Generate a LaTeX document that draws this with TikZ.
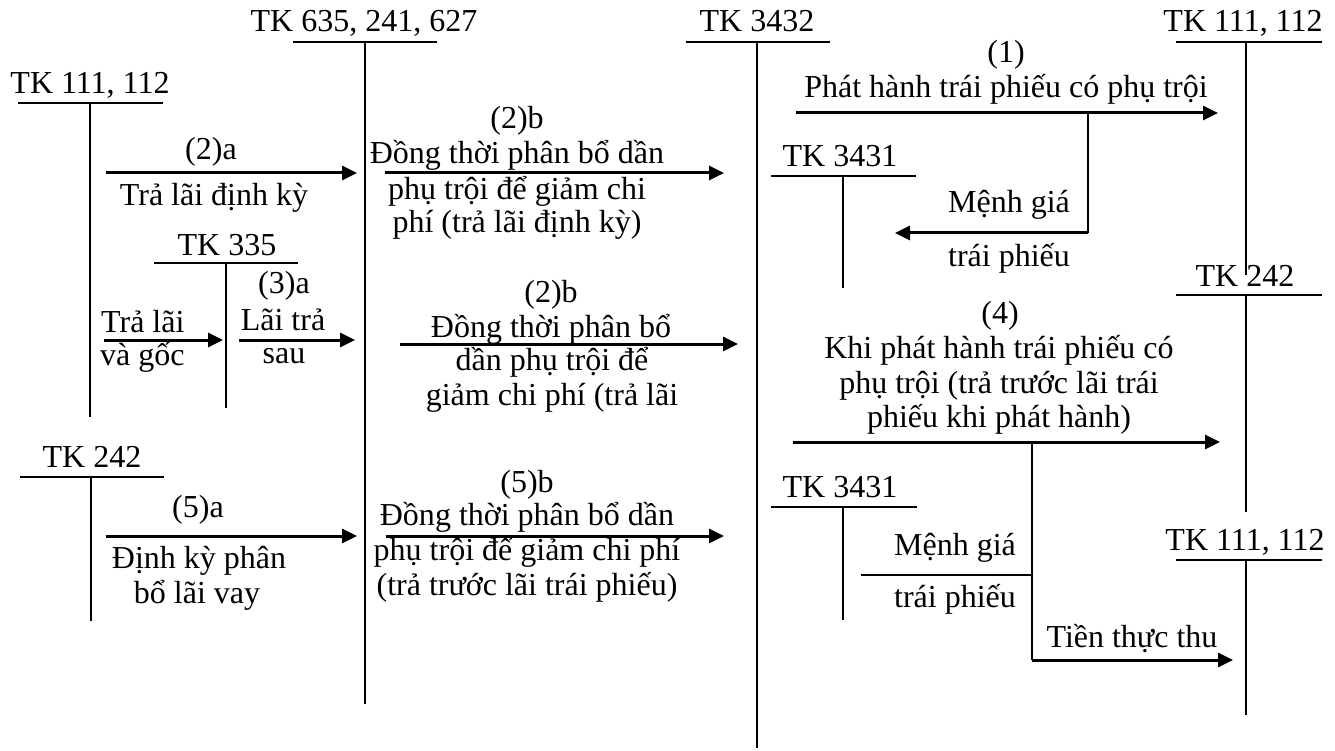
\documentclass[tikz,border=0pt]{standalone}
\usepackage{fontspec}
\setmainfont{Liberation Serif}
\usetikzlibrary{arrows.meta}
\tikzset{
  txt/.style={anchor=base, inner sep=0pt, font=\fontsize{32}{36}\selectfont},
  txtl/.style={txt, anchor=base west},
  tline/.style={line width=2.2pt},
  arr/.style={line width=3pt, -{Triangle[length=15pt,width=14pt]}}
}
\begin{document}
\begin{tikzpicture}[x=1pt,y=-1pt]
\useasboundingbox (0,0) rectangle (1335,751);

% ---------- T accounts ----------
% left TK 111, 112
\node[txt] (tA) at (90,94) {TK 111, 112};
\coordinate (tAl) at (18,103); \coordinate (tAr) at (163,103);
\coordinate (tAt) at (90,103); \coordinate (tAb) at (90,417);
\draw[tline] (tAl) -- (tAr); \draw[tline] (tAt) -- (tAb);

% TK 635, 241, 627
\node[txt] (tB) at (364,32) {TK 635, 241, 627};
\coordinate (tBl) at (293,42); \coordinate (tBr) at (437,42);
\coordinate (tBt) at (365,42); \coordinate (tBb) at (365,704);
\draw[tline] (tBl) -- (tBr); \draw[tline] (tBt) -- (tBb);

% TK 3432
\node[txt] (tC) at (757,32) {TK 3432};
\coordinate (tCl) at (686,42); \coordinate (tCr) at (830,42);
\coordinate (tCt) at (757,42); \coordinate (tCb) at (757,748);
\draw[tline] (tCl) -- (tCr); \draw[tline] (tCt) -- (tCb);

% right top TK 111, 112
\node[txt] (tD) at (1243,32) {TK 111, 112};
\coordinate (tDl) at (1176,42); \coordinate (tDr) at (1322,42);
\coordinate (tDt) at (1246,42); \coordinate (tDb) at (1246,275);
\draw[tline] (tDl) -- (tDr); \draw[tline] (tDt) -- (tDb);

% upper TK 3431
\node[txt] (tE) at (840,167) {TK 3431};
\coordinate (tEl) at (771,176); \coordinate (tEr) at (916,176);
\coordinate (tEt) at (843,176); \coordinate (tEb) at (843,288);
\draw[tline] (tEl) -- (tEr); \draw[tline] (tEt) -- (tEb);

% right TK 242
\node[txt] (tF) at (1245,287) {TK 242};
\coordinate (tFl) at (1176,295); \coordinate (tFr) at (1322,295);
\coordinate (tFt) at (1246,295); \coordinate (tFb) at (1246,512);
\draw[tline] (tFl) -- (tFr); \draw[tline] (tFt) -- (tFb);

% TK 335
\node[txt] (tG) at (227,255) {TK 335};
\coordinate (tGl) at (154,263); \coordinate (tGr) at (298,263);
\coordinate (tGt) at (226,263); \coordinate (tGb) at (226,408);
\draw[tline] (tGl) -- (tGr); \draw[tline] (tGt) -- (tGb);

% left TK 242
\node[txt] (tH) at (92,467) {TK 242};
\coordinate (tHl) at (20,477); \coordinate (tHr) at (164,477);
\coordinate (tHt) at (91,477); \coordinate (tHb) at (91,621);
\draw[tline] (tHl) -- (tHr); \draw[tline] (tHt) -- (tHb);

% lower TK 3431
\node[txt] (tI) at (840,497) {TK 3431};
\coordinate (tIl) at (771,507); \coordinate (tIr) at (917,507);
\coordinate (tIt) at (843,507); \coordinate (tIb) at (843,620);
\draw[tline] (tIl) -- (tIr); \draw[tline] (tIt) -- (tIb);

% lower right TK 111, 112
\node[txt] (tJ) at (1245,550) {TK 111, 112};
\coordinate (tJl) at (1176,560); \coordinate (tJr) at (1322,560);
\coordinate (tJt) at (1246,560); \coordinate (tJb) at (1246,715);
\draw[tline] (tJl) -- (tJr); \draw[tline] (tJt) -- (tJb);

% ---------- (2)a ----------
\coordinate (a2s) at (106,173); \coordinate (a2e) at (357,173);
\draw[arr] (a2s) -- (a2e);
\node[txt] (l2a) at (211,160) {(2)a};
\node[txt] (l2a1) at (214,206) {Trả lãi định kỳ};

% ---------- (2)b top ----------
\coordinate (b2s) at (385,173); \coordinate (b2e) at (724,173);
\draw[arr] (b2s) -- (b2e);
\node[txt] (l2b) at (517,129) {(2)b};
\node[txt] (l2b1) at (517,164) {Đồng thời phân bổ dần};
\node[txt] (l2b2) at (517,200) {phụ trội để giảm chi};
\node[txt] (l2b3) at (517,233) {phí (trả lãi định kỳ)};

% ---------- (1) ----------
\coordinate (c1s) at (796,113); \coordinate (c1e) at (1218,113);
\draw[arr] (c1s) -- (c1e);
\node[txt] (l1) at (1006,63) {(1)};
\node[txt] (l11) at (1006,98) {Phát hành trái phiếu có phụ trội};
\coordinate (c1b) at (1088,113); \coordinate (c1d) at (1088,233);
\coordinate (c1f) at (895,233);
\draw[tline] (c1b) -- (c1d);
\draw[arr] (c1d) -- (c1f);
\node[txt] (lm1) at (1009,213) {Mệnh giá};
\node[txt] (lm2) at (1009,267) {trái phiếu};

% ---------- TK 335 arrows ----------
\coordinate (d1s) at (104,340); \coordinate (d1e) at (223,340);
\draw[arr] (d1s) -- (d1e);
\node[txtl] (ld1) at (101,332) {Trả lãi};
\node[txtl] (ld2) at (100,365) {và gốc};
\coordinate (d2s) at (239,340); \coordinate (d2e) at (355,340);
\draw[arr] (d2s) -- (d2e);
\node[txt] (l3a) at (284,293) {(3)a};
\node[txt] (l3a1) at (283,330) {Lãi trả};
\node[txt] (l3a2) at (284,363) {sau};

% ---------- (2)b second ----------
\coordinate (e2s) at (400,344); \coordinate (e2e) at (738,344);
\draw[arr] (e2s) -- (e2e);
\node[txt] (l2c) at (551,302) {(2)b};
\node[txt] (l2c1) at (551,337) {Đồng thời phân bổ};
\node[txt] (l2c2) at (552,370) {dần phụ trội để};
\node[txt] (l2c3) at (552,405) {giảm chi phí (trả lãi};

% ---------- (4) ----------
\coordinate (f4s) at (793,442); \coordinate (f4e) at (1220,442);
\draw[arr] (f4s) -- (f4e);
\node[txt] (l4) at (1000,323) {(4)};
\node[txt] (l41) at (999,358) {Khi phát hành trái phiếu có};
\node[txt] (l42) at (999,393) {phụ trội (trả trước lãi trái};
\node[txt] (l43) at (999,427) {phiếu khi phát hành)};
\coordinate (f4b) at (1032,442); \coordinate (f4m) at (1032,575);
\coordinate (f4d) at (1032,660);
\coordinate (f4l) at (861,575); \coordinate (f4t) at (1233,660);
\draw[tline] (f4b) -- (f4d);
\draw[tline] (f4l) -- (f4m);
\draw[arr] (f4d) -- (f4t);
\node[txt] (ln1) at (955,555) {Mệnh giá};
\node[txt] (ln2) at (955,607) {trái phiếu};
\node[txt] (ln3) at (1132,647) {Tiền thực thu};

% ---------- (5)a ----------
\coordinate (g5s) at (106,536); \coordinate (g5e) at (357,536);
\draw[arr] (g5s) -- (g5e);
\node[txt] (l5a) at (198,517) {(5)a};
\node[txt] (l5a1) at (199,568) {Định kỳ phân};
\node[txt] (l5a2) at (197,603) {bổ lãi vay};

% ---------- (5)b ----------
\coordinate (h5s) at (386,536); \coordinate (h5e) at (724,536);
\draw[arr] (h5s) -- (h5e);
\node[txt] (l5b) at (527,492) {(5)b};
\node[txt] (l5b1) at (527,525) {Đồng thời phân bổ dần};
\node[txt] (l5b2) at (527,560) {phụ trội để giảm chi phí};
\node[txt] (l5b3) at (527,595) {(trả trước lãi trái phiếu)};

\end{tikzpicture}
\end{document}
